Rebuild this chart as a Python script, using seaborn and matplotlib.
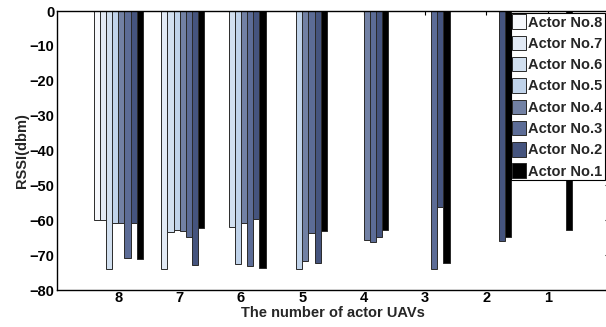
import pandas as pd
import numpy as np
import matplotlib
matplotlib.use('Agg')
import matplotlib.pyplot as plt
import seaborn as sns

# grupos (numero de actores) y actores
grupos = ['8', '7', '6', '5', '4', '3', '2', '1']
actores = ['Actor No.8', 'Actor No.7', 'Actor No.6', 'Actor No.5',
           'Actor No.4', 'Actor No.3', 'Actor No.2', 'Actor No.1']

# RSSI por actor, un valor por grupo (None = actor ausente)
rssi_no8 = [-60.0, None, None, None, None, None, None, None]
rssi_no7 = [-60.0, -74.0, None, None, None, None, None, None]
rssi_no6 = [-74.0, -63.3, -61.9, None, None, None, None, None]
rssi_no5 = [-60.7, -62.8, -72.6, -73.9, None, None, None, None]
rssi_no4 = [-60.9, -63.1, -60.9, -71.7, -65.7, None, None, None]
rssi_no3 = [-70.9, -64.7, -73.0, -63.6, -66.1, -73.9, None, None]
rssi_no2 = [-60.9, -72.8, -59.7, -72.1, -64.7, -56.3, -66.0, None]
rssi_no1 = [-71.0, -62.3, -73.6, -63.0, -62.8, -72.1, -64.9, -62.8]

series = [rssi_no8, rssi_no7, rssi_no6, rssi_no5, rssi_no4, rssi_no3, rssi_no2, rssi_no1]

filas = []
for actor, vals in zip(actores, series):
    for g, v in zip(grupos, vals):
        if v is not None:
            filas.append({'grupo': g, 'actor': actor, 'rssi': v})
df = pd.DataFrame(filas)

colores = ['#f5f8fd', '#dfe9f8', '#cddff5', '#b9d3f1',
           '#6a7eac', '#53689f', '#3b4f88', '#000000']

sns.set_style("white")
plt.rcParams['font.family'] = ['Liberation Sans', 'DejaVu Sans']
plt.rcParams['font.weight'] = 'bold'

fig = plt.figure(figsize=(6.06, 3.27), dpi=100)
ax = fig.add_axes([0.094, 0.113, 0.911, 0.853])

sns.barplot(data=df, x='grupo', y='rssi', hue='actor', order=grupos,
            hue_order=actores, palette=colores, width=0.8, dodge=True,
            edgecolor='#2a2a2a', linewidth=0.7, ax=ax, errorbar=None)

ax.set_ylim(-80, 0)
ax.set_xlim(-1, 8)
ax.set_yticks(range(-80, 1, 10))
ax.tick_params(direction='in', length=3, labelsize=10.5, top=True, right=True,
               width=0.8, colors='black', pad=2)
ax.tick_params(axis='x', pad=1)
for lab in ax.get_xticklabels() + ax.get_yticklabels():
    lab.set_fontweight('bold')
for s in ax.spines.values():
    s.set_visible(True)
    s.set_color('black')
    s.set_linewidth(1.0)

ax.set_xlabel('The number of actor UAVs', fontsize=10.5, fontweight='bold', labelpad=0.5)
ax.set_ylabel('RSSI(dbm)', fontsize=10.5, fontweight='bold', labelpad=0)

leg = ax.legend(loc='upper right', bbox_to_anchor=(0.9945, 1.0), title=None,
                fontsize=10.5, frameon=True, fancybox=False, edgecolor='black',
                framealpha=1.0, handlelength=0.95, handleheight=1.15,
                handletextpad=0.15, labelspacing=0.42, borderpad=0.12,
                borderaxespad=0.1)
leg.get_frame().set_linewidth(0.8)
for t in leg.get_texts():
    t.set_fontweight('bold')

fig.savefig('out.png', dpi=100)
